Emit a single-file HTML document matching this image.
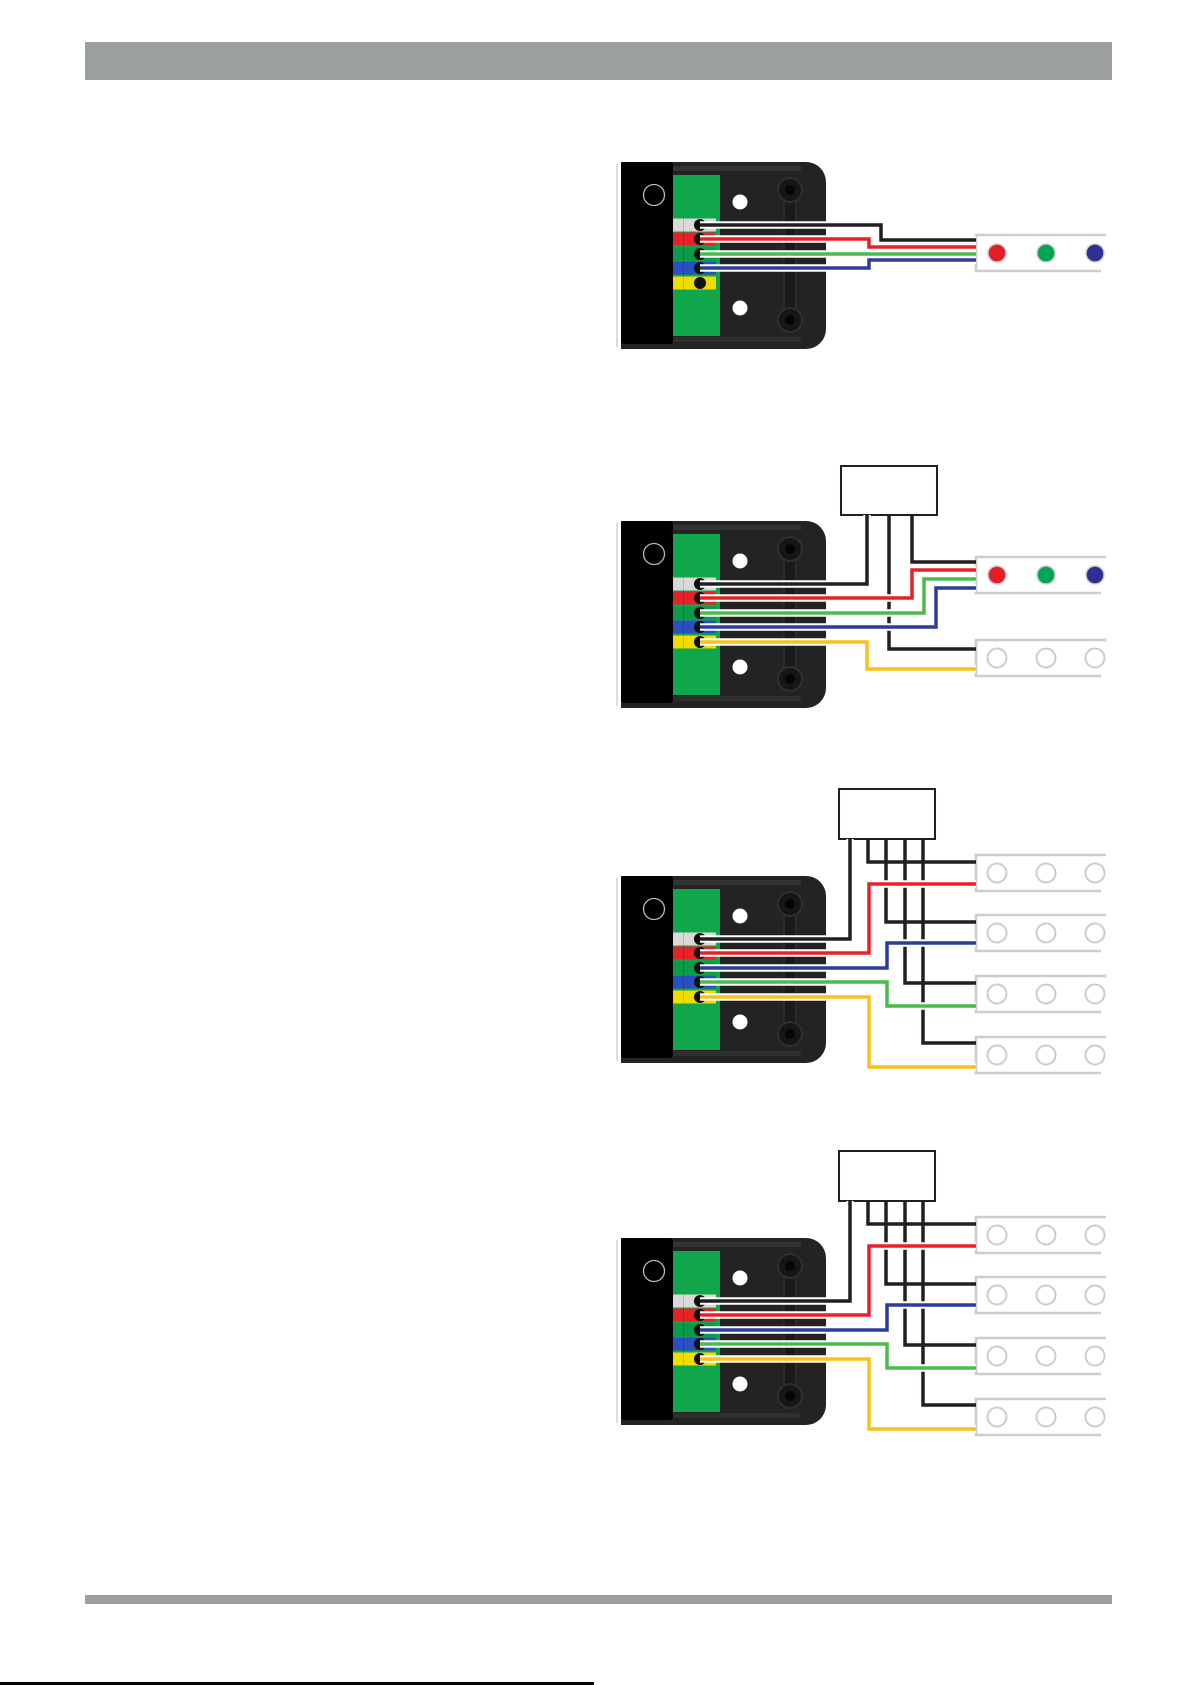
<!DOCTYPE html>
<html><head><meta charset="utf-8"><style>
html,body{margin:0;padding:0;background:#fff;}
svg{display:block;}
</style></head><body>
<svg width="1191" height="1685" viewBox="0 0 1191 1685" xmlns="http://www.w3.org/2000/svg">
<defs>
<g id="dev">
  <rect x="616" y="2" width="2" height="183" fill="#ddd"/>
  <path d="M621,0 H806 A20,20 0 0 1 826,20 V167 A20,20 0 0 1 806,187 H621 Z" fill="#232323"/>
  <rect x="621" y="4" width="180" height="5" fill="#333"/>
  <rect x="621" y="175" width="180" height="5" fill="#2e2e2e"/>
  <rect x="621" y="0" width="52" height="182" rx="3" fill="#000"/>
  <rect x="673" y="13" width="47" height="161" fill="#10a64c"/>
  <circle cx="654" cy="33" r="10.5" fill="none" stroke="#bbb" stroke-width="1.3"/>
  <circle cx="740" cy="40" r="7.5" fill="#fff"/>
  <circle cx="740" cy="146" r="7.5" fill="#fff"/>
  <rect x="784" y="38" width="12" height="110" fill="#1a1a1a" stroke="#2f2f2f" stroke-width="1.5"/>
  <circle cx="790" cy="28" r="12" fill="#161616" stroke="#2f2f2f" stroke-width="2"/>
  <circle cx="790" cy="28" r="5" fill="#050505"/>
  <circle cx="790" cy="158" r="12" fill="#161616" stroke="#2f2f2f" stroke-width="2"/>
  <circle cx="790" cy="158" r="5" fill="#050505"/>
  <rect x="673" y="56.5" width="43" height="13" fill="#d9d9d9"/>
  <rect x="673" y="70.5" width="43" height="13" fill="#e52227"/>
  <rect x="673" y="85.5" width="43" height="13" fill="#0c9a48"/>
  <rect x="673" y="99.5" width="43" height="13" fill="#2a4fc0"/>
  <rect x="673" y="114.5" width="43" height="13" fill="#f2dc00"/>
  <rect x="683" y="56.5" width="1" height="71" fill="rgba(0,0,0,0.15)"/>
  <circle cx="700" cy="63" r="6" fill="#111"/>
  <circle cx="700" cy="77" r="6" fill="#111"/>
  <circle cx="700" cy="92" r="6" fill="#111"/>
  <circle cx="700" cy="106" r="6" fill="#111"/>
  <circle cx="700" cy="121" r="6" fill="#111"/>
</g>
<g id="stripC">
  <path d="M1106,0 H976 V36 H1101" fill="none" stroke="#ccc" stroke-width="2.5"/>
  <circle cx="997" cy="18" r="9.5" fill="none" stroke="#ccc" stroke-width="2"/>
  <circle cx="1046" cy="18" r="9.5" fill="none" stroke="#ccc" stroke-width="2"/>
  <circle cx="1095" cy="18" r="9.5" fill="none" stroke="#ccc" stroke-width="2"/>
</g>
<g id="stripL">
  <path d="M1106,0 H976 V36 H1101" fill="none" stroke="#ccc" stroke-width="2.5"/>
  <circle cx="997" cy="18" r="9" fill="#e31e24" stroke="#ccc" stroke-width="1.5"/>
  <circle cx="1046" cy="18" r="9" fill="#00a651" stroke="#ccc" stroke-width="1.5"/>
  <circle cx="1095" cy="18" r="9" fill="#2e3192" stroke="#ccc" stroke-width="1.5"/>
</g>
<g id="d3">
  <use href="#dev" y="876"/>
  <rect x="839" y="789" width="96" height="50" fill="#fff" stroke="#231f20" stroke-width="2"/>
  <use href="#stripC" y="855"/>
  <use href="#stripC" y="915"/>
  <use href="#stripC" y="976"/>
  <use href="#stripC" y="1037"/>
  <g fill="none" stroke-linejoin="miter">
    <g stroke="#231f20" stroke-width="3.5">
      <path d="M868,839 V862 H976"/>
      <path d="M886,839 V922 H976"/>
      <path d="M905,839 V983 H976"/>
      <path d="M923,839 V1043 H976"/>
    </g>
    <g stroke="#fff" stroke-width="7.5">
      <path d="M700,939 H850 V839"/>
      <path d="M700,953 H869 V884 H976"/>
      <path d="M700,968 H887 V943 H976"/>
      <path d="M700,982 H887 V1006 H976"/>
      <path d="M700,997 H869 V1067 H976"/>
    </g>
    <path d="M700,939 H850 V839" stroke="#231f20" stroke-width="3.5"/>
    <path d="M700,953 H869 V884 H976" stroke="#e8202a" stroke-width="3.5"/>
    <path d="M700,968 H887 V943 H976" stroke="#2b3d9b" stroke-width="3.5"/>
    <path d="M700,982 H887 V1006 H976" stroke="#4cbb4c" stroke-width="3.5"/>
    <path d="M700,997 H869 V1067 H976" stroke="#f8c21a" stroke-width="3.5"/>
  </g>
</g>
</defs>

<rect x="85" y="42" width="1027" height="38" fill="#9c9fa0"/>
<rect x="85" y="1595" width="1027" height="9" fill="#9c9fa0"/>
<rect x="0" y="1682" width="594" height="3" fill="#000"/>

<!-- Diagram 1 -->
<use href="#dev" y="162"/>
<use href="#stripL" y="235"/>
<g fill="none">
  <g stroke="#fff" stroke-width="7.5">
    <path d="M700,225 H881 V240 H976"/>
    <path d="M700,239 H869 V247 H976"/>
    <path d="M700,254 H976"/>
    <path d="M700,268 H869 V260 H976"/>
  </g>
  <path d="M700,225 H881 V240 H976" stroke="#231f20" stroke-width="3.5"/>
  <path d="M700,239 H869 V247 H976" stroke="#e8202a" stroke-width="3.5"/>
  <path d="M700,254 H976" stroke="#4cbb4c" stroke-width="3.5"/>
  <path d="M700,268 H869 V260 H976" stroke="#2b3d9b" stroke-width="3.5"/>
</g>

<!-- Diagram 2 -->
<use href="#dev" y="521"/>
<rect x="841" y="466" width="96" height="49" fill="#fff" stroke="#231f20" stroke-width="2"/>
<use href="#stripL" y="557"/>
<use href="#stripC" y="640"/>
<g fill="none">
  <g stroke="#231f20" stroke-width="3.5">
    <path d="M889,515 V649 H976"/>
    <path d="M912,515 V562 H976"/>
  </g>
  <g stroke="#fff" stroke-width="7.5">
    <path d="M700,584 H867 V515"/>
    <path d="M700,598 H912 V570 H976"/>
    <path d="M700,613 H924 V579 H976"/>
    <path d="M700,627 H936 V588 H976"/>
    <path d="M700,642 H867 V669 H976"/>
  </g>
  <path d="M700,584 H867 V515" stroke="#231f20" stroke-width="3.5"/>
  <path d="M700,598 H912 V570 H976" stroke="#e8202a" stroke-width="3.5"/>
  <path d="M700,613 H924 V579 H976" stroke="#4cbb4c" stroke-width="3.5"/>
  <path d="M700,627 H936 V588 H976" stroke="#2b3d9b" stroke-width="3.5"/>
  <path d="M700,642 H867 V669 H976" stroke="#f8c21a" stroke-width="3.5"/>
</g>

<!-- Diagram 3 -->
<use href="#d3"/>
<!-- Diagram 4 -->
<use href="#d3" y="362"/>
</svg>
</body></html>
